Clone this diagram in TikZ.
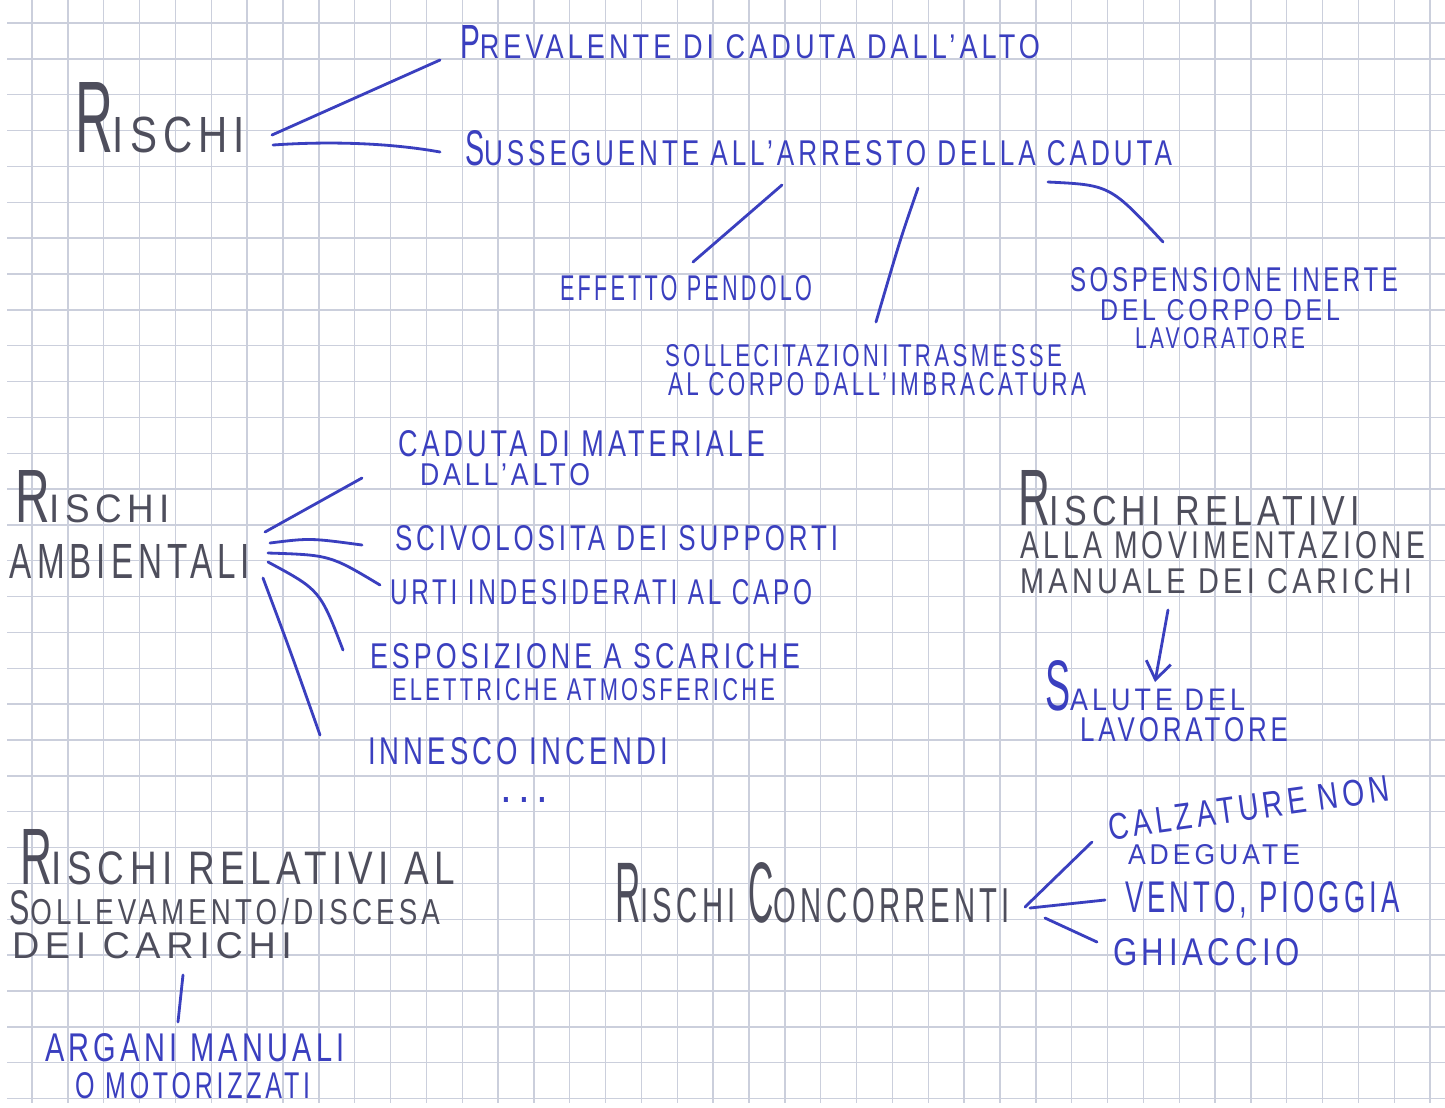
\documentclass[tikz,border=0pt]{standalone}
\usepackage{fontspec}
\setmainfont{Liberation Sans}[LetterSpace=15]
\usepackage{graphicx}
\usetikzlibrary{arrows.meta}
\definecolor{ink}{RGB}{58,63,191}
\definecolor{pencil}{RGB}{78,78,92}
\definecolor{gridc}{RGB}{203,207,220}
\newdimen\hwpx \hwpx=0.02cm
\newcommand\hwt[3]{\resizebox{#1\hwpx}{#2\hwpx}{#3}}
\newcommand\ini[3]{\scalebox{#1}[#2]{#3}}
\begin{document}
\begin{tikzpicture}[x=0.02cm,y=-0.02cm,
  txt/.style={anchor=base west, inner sep=0pt, outer sep=0pt},
  inktxt/.style={txt, text=ink},
  penciltxt/.style={txt, text=pencil},
  inkline/.style={draw=ink, line width=1.6pt, line cap=round},
  gridline/.style={draw=gridc, line width=0.8pt}]
\fill[white] (0,0) rectangle (1445,1107);
\useasboundingbox (0,0) rectangle (1445,1107);
\foreach \i in {0,...,39} \draw[gridline] ({32+35.85*\i},0) -- ({32+35.85*\i},1103);
\foreach \j in {0,...,30} \draw[gridline] (7,{23+35.85*\j}) -- (1445,{23+35.85*\j});

% --- top group
\node[penciltxt] (r0) at (75,152) {\hwt{170}{70}{\ini{1.3}{2}{R}ISCHI}};
\node[inktxt] (prev) at (460,58) {\hwt{580}{33}{\ini{1.1}{1.4}{P}REVALENTE DI CADUTA DALL'ALTO}};
\node[inktxt] (suss) at (465,165) {\hwt{707}{35}{\ini{1.1}{1.4}{S}USSEGUENTE ALL'ARRESTO DELLA CADUTA}};
\node[inktxt] (eff) at (560,300) {\hwt{252}{25}{EFFETTO PENDOLO}};
\node[inktxt] (sol1) at (665,366) {\hwt{397}{22}{SOLLECITAZIONI TRASMESSE}};
\node[inktxt] (sol2) at (668,395) {\hwt{418}{23}{AL CORPO DALL'IMBRACATURA}};
\node[inktxt] (sos1) at (1070,291) {\hwt{328}{24}{SOSPENSIONE INERTE}};
\node[inktxt] (sos2) at (1100,320) {\hwt{240}{21}{DEL CORPO DEL}};
\node[inktxt] (sos3) at (1135,348) {\hwt{170}{21}{LAVORATORE}};

\coordinate (r0a) at (272,135); \coordinate (preva) at (440,60);
\coordinate (r0b) at (273,145); \coordinate (sussa) at (440,152);
\draw[inkline] (r0a) -- (preva);
\draw[inkline] (r0b) .. controls (330,141) and (390,143) .. (sussa);
\coordinate (s1) at (782,185); \coordinate (effa) at (693,262);
\coordinate (s2) at (918,188); \coordinate (sola) at (876,322);
\coordinate (s3) at (1048,182); \coordinate (sosa) at (1163,242);
\draw[inkline] (s1) -- (effa);
\draw[inkline] (s2) .. controls (900,240) .. (sola);
\draw[inkline] (s3) .. controls (1110,185) .. (sosa);

% --- rischi ambientali
\node[penciltxt] (amb1) at (15,522) {\hwt{155}{52}{\ini{1.3}{1.9}{R}ISCHI}};
\node[penciltxt] (amb2) at (10,578) {\hwt{240}{34}{AMBIENTALI}};
\node[inktxt] (cad1) at (398,456) {\hwt{367}{26}{CADUTA DI MATERIALE}};
\node[inktxt] (cad2) at (420,485) {\hwt{170}{22}{DALL'ALTO}};
\node[inktxt] (sciv) at (395,550) {\hwt{443}{25}{SCIVOLOSITA DEI SUPPORTI}};
\node[inktxt] (urti) at (390,604) {\hwt{422}{25}{URTI INDESIDERATI AL CAPO}};
\node[inktxt] (esp1) at (370,668) {\hwt{430}{25}{ESPOSIZIONE A SCARICHE}};
\node[inktxt] (esp2) at (392,700) {\hwt{383}{22}{ELETTRICHE ATMOSFERICHE}};
\node[inktxt] (inn) at (368,764) {\hwt{300}{27}{INNESCO INCENDI}};
\node[inktxt] (dots) at (500,802) {\hwt{48}{5}{...}};

\coordinate (a1) at (265,532); \coordinate (c1) at (362,478);
\coordinate (a2) at (270,543); \coordinate (c2) at (362,545);
\coordinate (a3) at (268,553); \coordinate (c3) at (380,585);
\coordinate (a4) at (268,562); \coordinate (c4) at (343,650);
\coordinate (a5) at (263,578); \coordinate (c5) at (320,735);
\draw[inkline] (a1) -- (c1);
\draw[inkline] (a2) .. controls (310,538) .. (c2);
\draw[inkline] (a3) .. controls (330,555) .. (c3);
\draw[inkline] (a4) .. controls (320,590) .. (c4);
\draw[inkline] (a5) .. controls (290,650) .. (c5);

% --- movimentazione manuale
\node[penciltxt] (mov1) at (1018,525) {\hwt{342}{55}{\ini{1.3}{1.9}{R}ISCHI RELATIVI}};
\node[penciltxt] (mov2) at (1020,558) {\hwt{405}{27}{ALLA MOVIMENTAZIONE}};
\node[penciltxt] (mov3) at (1020,593) {\hwt{392}{25}{MANUALE DEI CARICHI}};
\node[inktxt] (sal1) at (1045,710) {\hwt{200}{50}{\ini{1.4}{2.3}{S}ALUTE DEL}};
\node[inktxt] (sal2) at (1080,741) {\hwt{208}{24}{LAVORATORE}};
\coordinate (m1) at (1168,610); \coordinate (m2) at (1155,682);
\draw[inkline, -{Straight Barb[length=3.5mm,width=5mm]}] (m1) -- (m2);

% --- sollevamento
\node[penciltxt] (sv1) at (20,884) {\hwt{435}{55}{\ini{1.2}{1.7}{R}ISCHI RELATIVI AL}};
\node[penciltxt] (sv2) at (10,924) {\hwt{430}{34}{\ini{1.1}{1.35}{S}OLLEVAMENTO/DISCESA}};
\node[penciltxt] (sv3) at (12,958) {\hwt{280}{26}{DEI CARICHI}};
\node[inktxt] (arg1) at (45,1061) {\hwt{300}{28}{ARGANI MANUALI}};
\node[inktxt] (arg2) at (75,1098) {\hwt{235}{26}{O MOTORIZZATI}};
\coordinate (v1) at (183,975); \coordinate (v2) at (178,1022);
\draw[inkline] (v1) -- (v2);

% --- concorrenti
\node[penciltxt] (conc) at (615,922) {\hwt{395}{60}{\ini{1.2}{1.75}{R}ISCHI \ini{1.2}{1.75}{C}ONCORRENTI}};
\node[inktxt, rotate=8] (calz1) at (1110,840) {\hwt{283}{26}{CALZATURE NON}};
\node[inktxt] (calz2) at (1128,864) {\hwt{172}{20}{ADEGUATE}};
\node[inktxt] (vento) at (1125,912) {\hwt{275}{31}{VENTO, PIOGGIA}};
\node[inktxt] (ghi) at (1113,965) {\hwt{187}{27}{GHIACCIO}};
\coordinate (k1) at (1025,907); \coordinate (k1b) at (1092,842);
\coordinate (k2) at (1030,908); \coordinate (k2b) at (1105,900);
\coordinate (k3) at (1045,918); \coordinate (k3b) at (1097,942);
\draw[inkline] (k1) -- (k1b);
\draw[inkline] (k2) -- (k2b);
\draw[inkline] (k3) -- (k3b);
\end{tikzpicture}
\end{document}
